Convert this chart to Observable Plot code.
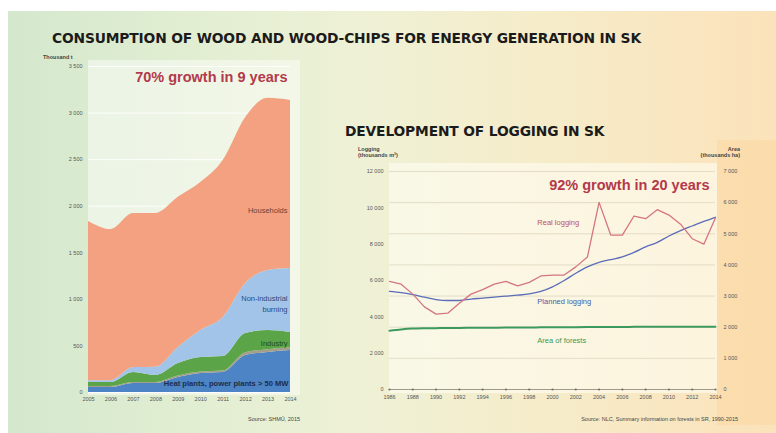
<!DOCTYPE html>
<html><head><meta charset="utf-8">
<script src="https://cdn.jsdelivr.net/npm/d3@7"></script>
<script src="https://cdn.jsdelivr.net/npm/@observablehq/plot@0.6"></script>
<style>
body{margin:0;width:776px;height:433px;overflow:hidden;background:#fff;font-family:"Liberation Sans",Arial,sans-serif;position:relative}
.abs{position:absolute}
#bg{left:8px;top:11px;width:768px;height:422px;background:linear-gradient(90deg,#d4e8cd 0%,#e2eed2 25%,#eef1d6 45%,#f6ecc9 70%,#fbe2ba 100%)}
.title{font-family:"DejaVu Sans",sans-serif;font-weight:bold;font-size:13.8px;color:#1b1b1b;white-space:nowrap;letter-spacing:-0.15px}
.small{font-size:5.5px;color:#444;white-space:nowrap;line-height:6px}
</style></head>
<body>
<div id="bg" class="abs"></div>
<div class="abs" style="left:88px;top:60px;width:212px;height:335px;background:rgba(255,255,255,0.45)"></div>
<div class="abs" style="left:389px;top:163px;width:328px;height:230px;background:rgba(255,253,244,0.6)"></div>
<div class="abs" style="left:717px;top:140px;width:59px;height:285px;background:rgba(251,208,145,0.35)"></div>
<div class="abs title" style="left:52px;top:30px">CONSUMPTION OF WOOD AND WOOD-CHIPS FOR ENERGY GENERATION IN SK</div>
<div class="abs title" style="left:345px;top:123px">DEVELOPMENT OF LOGGING IN SK</div>
<div class="abs small" style="left:43px;top:54px;font-weight:bold">Thousand t</div>
<div class="abs small" style="left:358px;top:146px;font-weight:bold">Logging<br>(thousands m³)</div>
<div class="abs small" style="right:36px;top:146px;font-weight:bold;text-align:right">Area<br>(thousands ha)</div>
<div class="abs small" style="right:476px;top:416px">Source: SHMÚ, 2015</div>
<div class="abs small" style="right:38px;top:416px">Source: NLC, Summary information on forests in SR, 1990-2015</div>
<div id="c1" class="abs" style="left:40px;top:55px"></div>
<div id="c2" class="abs" style="left:340px;top:145px"></div>
<script>
// ---- Chart 1: consumption of wood (thousand t) ----
const years1 = [2005, 2006, 2007, 2008, 2009, 2010, 2011, 2012, 2013, 2014];
const heatPlants = [54, 54, 97, 97, 161, 204, 215, 397, 430, 451];
const otherUse = [10, 10, 10, 10, 15, 15, 15, 30, 30, 30];
const industry = [43, 43, 108, 76, 135, 157, 157, 207, 206, 164];
const nonIndustrial = [20, 20, 53, 89, 172, 290, 419, 536, 644, 685];
const households = [1710, 1623, 1654, 1650, 1612, 1589, 1686, 1780, 1848, 1806];
const seriesNames1 = ["Heat plants", "Other", "Industry", "Non-industrial burning", "Households"];
const seriesColors1 = ["#4c84c6", "#a39f8a", "#5ba548", "#a2c4e9", "#f3a181"];
const yTicks1 = [0, 500, 1000, 1500, 2000, 2500, 3000, 3500];

// ---- Chart 2: logging (thousand m3) and forest area (thousand ha) ----
const years2 = [1986,1987,1988,1989,1990,1991,1992,1993,1994,1995,1996,1997,1998,1999,2000,2001,2002,2003,2004,2005,2006,2007,2008,2009,2010,2011,2012,2013,2014];
const realLogging = [5950,5800,5250,4550,4150,4200,4750,5250,5500,5800,5950,5700,5900,6250,6300,6300,6750,7300,10300,8500,8500,9550,9400,9900,9600,9100,8300,8000,9450];
const plannedLogging = [5400,5330,5220,5080,4950,4900,4900,4980,5030,5090,5140,5190,5260,5400,5650,6000,6400,6750,7000,7150,7300,7550,7850,8100,8450,8750,9000,9250,9480];
const forestArea = [1890,1930,1955,1965,1970,1975,1978,1980,1982,1985,1988,1990,1992,1995,1998,2000,2002,2004,2006,2008,2010,2011,2012,2013,2014,2014,2015,2015,2016];
const xTicks2 = [1986,1988,1990,1992,1994,1996,1998,2000,2002,2004,2006,2008,2010,2012,2014];
const yTicksLeft2 = [0, 2000, 4000, 6000, 8000, 10000, 12000];
const yTicksRight2 = [0, 1000, 2000, 3000, 4000, 5000, 6000, 7000];

const fmt = d => d3.format(",")(d).replace(/,/g, " ");
const fontFam = "Liberation Sans, Arial, sans-serif";

// tidy table for stacked areas
const parts = [heatPlants, otherUse, industry, nonIndustrial, households];
const tidy1 = [];
seriesNames1.forEach((s, i) => years1.forEach((y, j) => tidy1.push({year: y, series: s, value: parts[i][j]})));

const lab = (x, y, t) => [{x, y, t}];

const chart1 = Plot.plot({
  width: 270, height: 355,
  marginLeft: 48, marginRight: 20, marginTop: 11, marginBottom: 18,
  style: {background: "transparent", fontFamily: fontFam, fontSize: "5.5px", color: "#555", overflow: "visible"},
  x: {domain: [2005, 2014], label: null},
  y: {domain: [0, 3500], label: null},
  color: {domain: seriesNames1, range: seriesColors1},
  marks: [
    Plot.gridY(yTicks1, {stroke: "#ffffff", strokeOpacity: 0.9}),
    Plot.areaY(tidy1, {x: "year", y: "value", fill: "series", order: seriesNames1, curve: "monotone-x"}),
    Plot.axisX(years1, {tickSize: 0, tickPadding: 5, tickFormat: d => String(d)}),
    Plot.axisY(yTicks1, {tickSize: 0, tickPadding: 6, tickFormat: fmt}),
    Plot.text(lab(2014, 3383, "70% growth in 9 years"), {x: "x", y: "y", text: "t", textAnchor: "end", dx: -3, fontSize: 14.5, fontWeight: "bold", fill: "#b3394b"}),
    Plot.text(lab(2014, 1955, "Households"), {x: "x", y: "y", text: "t", textAnchor: "end", dx: -3, fontSize: 7.5, fill: "#6a4536"}),
    Plot.text(lab(2014, 961, "Non-industrial\nburning"), {x: "x", y: "y", text: "t", textAnchor: "end", dx: -3, fontSize: 7.5, lineHeight: 1.45, fill: "#2d4a78"}),
    Plot.text(lab(2014, 526, "Industry"), {x: "x", y: "y", text: "t", textAnchor: "end", dx: -3, fontSize: 7.5, fill: "#1e4a1e"}),
    Plot.text(lab(2014, 97, "Heat plants, power plants > 50 MW"), {x: "x", y: "y", text: "t", textAnchor: "end", dx: -2, fontSize: 7.6, fontWeight: "bold", fill: "#1d2e4a"})
  ]
});
document.getElementById("c1").appendChild(chart1);

const realData = years2.map((y, i) => ({year: y, v: realLogging[i]}));
const plannedData = years2.map((y, i) => ({year: y, v: plannedLogging[i]}));
const areaData = years2.map((y, i) => ({year: y, v: forestArea[i]}));
const k = 12000 / 7000; // right axis (thousand ha) shares the plot height with left axis

const chart2 = Plot.plot({
  width: 436, height: 270,
  marginLeft: 49, marginRight: 61, marginTop: 26, marginBottom: 26,
  style: {background: "transparent", fontFamily: fontFam, fontSize: "5.5px", color: "#555", overflow: "visible"},
  x: {domain: [1986, 2014], label: null},
  y: {domain: [0, 12000], label: null},
  marks: [
    Plot.gridY(yTicksRight2.map(v => v * k), {stroke: "#d9d2b8", strokeOpacity: 0.7}),
    Plot.ruleY([0], {stroke: "#8a8a80", strokeWidth: 0.8}),
    Plot.dot(xTicks2, {x: d => d, y: 0, r: 1.1, fill: "#6f6f66"}),
    Plot.lineY(areaData, {x: "year", y: d => d.v * k, stroke: "#3d9a5e", strokeWidth: 2, curve: "monotone-x"}),
    Plot.lineY(plannedData, {x: "year", y: "v", stroke: "#5b6cb8", strokeWidth: 1.3, curve: "monotone-x"}),
    Plot.lineY(realData, {x: "year", y: "v", stroke: "#d47580", strokeWidth: 1.3}),
    Plot.axisX(xTicks2, {tickSize: 0, tickPadding: 6, tickFormat: d => String(d)}),
    Plot.axisY(yTicksLeft2, {anchor: "left", tickSize: 0, tickPadding: 6, tickFormat: fmt}),
    Plot.axisY(yTicksRight2.map(v => v * k), {anchor: "right", tickSize: 0, tickPadding: 8, tickFormat: d => fmt(Math.round(d / k))}),
    Plot.text(lab(2014, 11230, "92% growth in 20 years"), {x: "x", y: "y", text: "t", textAnchor: "end", dx: -6, fontSize: 14.5, fontWeight: "bold", fill: "#b3394b"}),
    Plot.text(lab(1998.7, 9190, "Real logging"), {x: "x", y: "y", text: "t", textAnchor: "start", fontSize: 7.5, fill: "#c2505c"}),
    Plot.text(lab(1998.7, 4844, "Planned logging"), {x: "x", y: "y", text: "t", textAnchor: "start", fontSize: 7.5, fill: "#4a5aa8"}),
    Plot.text(lab(1998.7, 2697, "Area of forests"), {x: "x", y: "y", text: "t", textAnchor: "start", fontSize: 7.5, fill: "#3a9658"})
  ]
});
document.getElementById("c2").appendChild(chart2);
</script>
</body></html>
